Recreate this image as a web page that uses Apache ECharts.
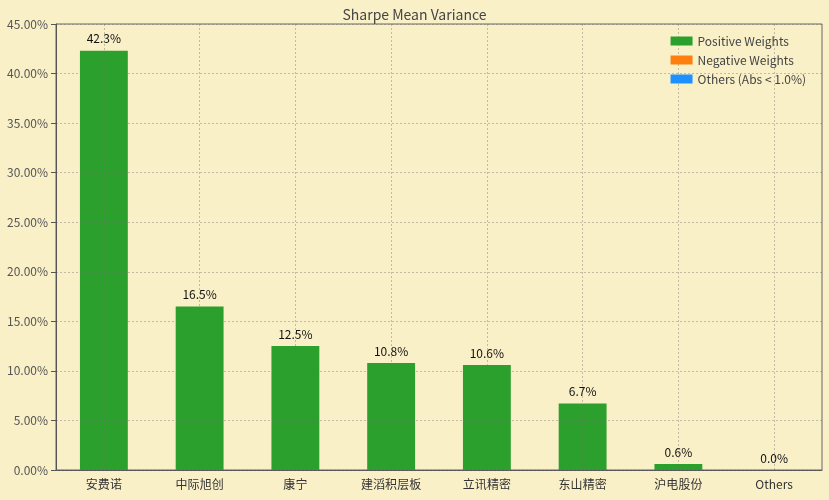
<!DOCTYPE html>
<html><head><meta charset="utf-8">
<script src="https://cdn.jsdelivr.net/npm/echarts@6/dist/echarts.min.js"></script>
<style>html,body{margin:0;padding:0;background:#faf0c8;}#c{width:829px;height:500px;}</style>
</head><body><div id="c"></div>
<script>
const categories = ['安费诺','中际旭创','康宁','建滔积层板','立讯精密','东山精密','沪电股份','Others'];
const positiveWeights = [42.3, 16.5, 12.5, 10.8, 10.6, 6.7, 0.6, 0.0];
const negativeWeights = [];
const otherWeights = [];
const titleText = 'Sharpe Mean Variance';
const FONT = '"Noto Sans CJK SC", "Open Sans", sans-serif';
const GRIDLINE = {color: 'rgba(110,110,110,0.5)', type: [2,2], width: 0.8};
// half-slot helper axis so that vertical grid lines fall on category centres
const halfSlots = Array.from({length: categories.length * 2 + 1}, (_, i) => String(i));
const chart = echarts.init(document.getElementById('c'));
chart.setOption({
  backgroundColor: '#faf0c8',
  animation: false,
  title: {text: titleText, left: 'center', top: 3, textStyle: {fontFamily: FONT, fontSize: 14, fontWeight: 'normal', color: '#444'}},
  legend: {
    orient: 'vertical', right: 18, top: 30, itemWidth: 22, itemHeight: 9, itemGap: 7, icon: 'rect',
    textStyle: {fontFamily: FONT, fontSize: 12, color: '#444'},
    data: ['Positive Weights','Negative Weights','Others (Abs < 1.0%)']
  },
  grid: {left: 56, right: 7, top: 24, bottom: 30, show: true, borderColor: '#666', borderWidth: 1, backgroundColor: 'transparent'},
  xAxis: [{
    type: 'category', data: categories,
    axisLine: {lineStyle: {color: '#555'}},
    axisTick: {alignWithLabel: true, lineStyle: {color: '#555'}},
    axisLabel: {fontFamily: FONT, fontSize: 12, color: '#333', margin: 8},
    splitLine: {show: false}
  }, {
    type: 'category', data: halfSlots, boundaryGap: false, position: 'bottom', z: 3,
    axisLine: {show: false}, axisTick: {show: false}, axisLabel: {show: false},
    splitLine: {show: true, interval: (i) => i % 2 === 1, lineStyle: GRIDLINE}
  }],
  yAxis: {
    type: 'value', min: 0, max: 45, interval: 5, z: 3,
    axisLine: {show: true, lineStyle: {color: '#555'}},
    axisTick: {show: true, lineStyle: {color: '#555'}},
    axisLabel: {fontFamily: FONT, fontSize: 12, color: '#555', formatter: v => v.toFixed(2) + '%'},
    splitLine: {show: true, lineStyle: GRIDLINE}
  },
  series: [
    {name: 'Positive Weights', type: 'bar', stack: 'w', barWidth: '50%', data: positiveWeights,
     itemStyle: {color: '#2ca02c'},
     label: {show: true, position: 'top', distance: 6, formatter: p => p.value.toFixed(1) + '%', fontFamily: FONT, fontSize: 12, color: '#111'}},
    {name: 'Negative Weights', type: 'bar', stack: 'w', data: negativeWeights, itemStyle: {color: '#ff7f0e'}},
    {name: 'Others (Abs < 1.0%)', type: 'bar', stack: 'w', data: otherWeights, itemStyle: {color: '#1e90ff'}}
  ]
});
</script></body></html>
